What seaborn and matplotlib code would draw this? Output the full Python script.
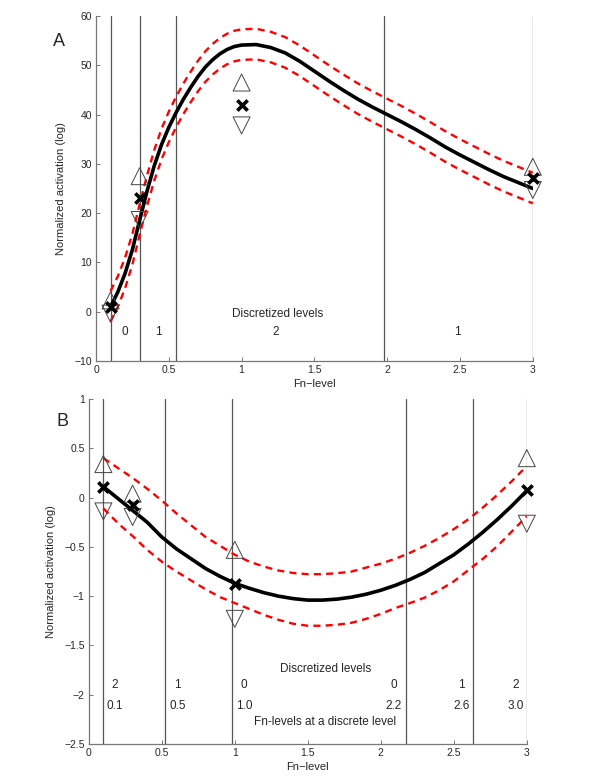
import seaborn as sns
import matplotlib.pyplot as plt

# ---- panel A data ----
xa = [0.1, 0.15, 0.2, 0.25, 0.3, 0.35, 0.4, 0.45, 0.5, 0.55, 0.6, 0.65, 0.7, 0.75, 0.8,
      0.85, 0.9, 0.95, 1.0, 1.1, 1.2, 1.3, 1.4, 1.5, 1.6, 1.7, 1.8, 1.9, 2.0, 2.1,
      2.2, 2.3, 2.4, 2.5, 2.6, 2.7, 2.8, 2.9, 3.0]
fit_a = [1.0, 4.0, 7.8, 12.6, 18.6, 24.4, 29.6, 33.9, 37.4, 40.4, 43.1, 45.5, 47.7, 49.6, 51.1,
         52.3, 53.2, 53.8, 54.1, 54.2, 53.6, 52.5, 50.8, 48.8, 46.8, 44.9, 43.1, 41.5, 40.0, 38.5,
         36.9, 35.2, 33.4, 31.8, 30.3, 28.8, 27.4, 26.2, 25.0]
upper_a = [4.2, 7.2, 11.0, 15.8, 21.8, 27.6, 32.8, 37.1, 40.6, 43.6, 46.3, 48.7, 50.9, 52.8, 54.3,
           55.5, 56.4, 57.0, 57.3, 57.4, 56.8, 55.7, 54.0, 52.0, 50.0, 48.1, 46.3, 44.7, 43.2, 41.7,
           40.1, 38.4, 36.6, 35.0, 33.5, 32.0, 30.6, 29.4, 28.2]
lower_a = [-2.0, 1.0, 4.8, 9.6, 15.6, 21.4, 26.6, 30.9, 34.4, 37.4, 40.1, 42.5, 44.7, 46.6, 48.1,
           49.3, 50.2, 50.8, 51.1, 51.2, 50.6, 49.5, 47.8, 45.8, 43.8, 41.9, 40.1, 38.5, 37.0, 35.5,
           33.9, 32.2, 30.4, 28.8, 27.3, 25.8, 24.4, 23.2, 22.0]

obs_x_a = [0.1, 0.3, 1.0, 3.0]
obs_mean_a = [1.0, 23.0, 41.9, 27.1]
obs_hi_a = [2.3, 27.5, 46.5, 29.4]
obs_lo_a = [-0.4, 18.6, 37.8, 24.7]

bounds_a = [0.1, 0.3, 0.55, 1.98, 3.0]
levels_a = ['0', '1', '2', '1']
levels_a_x = [0.2, 0.425, 1.235, 2.48]

# ---- panel B data ----
xb = [0.1, 0.2, 0.3, 0.4, 0.5, 0.6, 0.7, 0.8, 0.9, 1.0, 1.1, 1.2, 1.3, 1.4, 1.5,
      1.6, 1.7, 1.8, 1.9, 2.0, 2.1, 2.2, 2.3, 2.4, 2.5, 2.6, 2.7, 2.8, 2.9, 3.0]
fit_b = [0.11, -0.01, -0.13, -0.25, -0.40, -0.52, -0.62, -0.72, -0.80, -0.87, -0.92, -0.965, -1.00, -1.025, -1.04,
         -1.04, -1.03, -1.01, -0.98, -0.94, -0.89, -0.83, -0.76, -0.67, -0.58, -0.47, -0.35, -0.22, -0.08, 0.07]
upper_b = [0.40, 0.30, 0.20, 0.09, -0.03, -0.16, -0.28, -0.40, -0.49, -0.58, -0.65, -0.70, -0.74, -0.765, -0.777,
           -0.777, -0.767, -0.75, -0.71, -0.67, -0.62, -0.56, -0.49, -0.41, -0.32, -0.22, -0.10, 0.03, 0.17, 0.32]
lower_b = [-0.11, -0.26, -0.39, -0.53, -0.65, -0.75, -0.84, -0.93, -1.01, -1.07, -1.13, -1.19, -1.24, -1.28, -1.30,
           -1.30, -1.29, -1.27, -1.23, -1.18, -1.12, -1.07, -1.015, -0.94, -0.85, -0.735, -0.62, -0.49, -0.34, -0.19]

obs_x_b = [0.1, 0.3, 1.0, 3.0]
obs_mean_b = [0.11, -0.075, -0.876, 0.077]
obs_hi_b = [0.34, 0.04, -0.53, 0.40]
obs_lo_b = [-0.14, -0.197, -1.23, -0.265]

bounds_b = [0.1, 0.525, 0.98, 2.175, 2.63, 3.0]
levels_b = ['2', '1', '0', '0', '1', '2']
fnlev_b = ['0.1', '0.5', '1.0', '2.2', '2.6', '3.0']
levels_b_x = [0.178, 0.607, 1.064, 2.09, 2.555, 2.925]

sns.set_style('ticks')
plt.rcParams['font.family'] = ['Liberation Sans Narrow', 'Liberation Sans', 'DejaVu Sans']
plt.rcParams['axes.unicode_minus'] = True

fig = plt.figure(figsize=(6, 7.76), dpi=100)
ax_a = fig.add_axes([0.16, 0.5348, 0.728, 0.4446])
ax_b = fig.add_axes([0.148, 0.0412, 0.73, 0.4446])


def draw_panel(ax, x, fit, up, lo, ox, om, oh, ol, bounds):
    for b in bounds:
        ax.axvline(b, color='#555555', lw=0.9, zorder=1)
    sns.lineplot(x=x, y=up, ax=ax, color='red', lw=1.7, dashes=(3, 2.2), zorder=2)
    sns.lineplot(x=x, y=lo, ax=ax, color='red', lw=1.7, dashes=(3, 2.2), zorder=2)
    sns.lineplot(x=x, y=fit, ax=ax, color='black', lw=2.6, zorder=3)
    sns.scatterplot(x=ox, y=oh, ax=ax, marker='^', s=150, facecolor='none',
                    edgecolor='#444444', linewidth=0.7, zorder=4, clip_on=False)
    sns.scatterplot(x=ox, y=ol, ax=ax, marker='v', s=150, facecolor='none',
                    edgecolor='#444444', linewidth=0.7, zorder=4, clip_on=False)
    sns.scatterplot(x=ox, y=om, ax=ax, marker='x', s=55, color='black',
                    linewidth=2.6, zorder=5, clip_on=False)
    sns.despine(ax=ax)
    for sp in ['left', 'bottom']:
        ax.spines[sp].set_color('#777777')
        ax.spines[sp].set_linewidth(0.9)
    ax.tick_params(direction='in', length=3, width=0.7, color='#777777',
                   labelsize=7.5, pad=3)
    ax.set_xlim(0, 3)
    ax.set_xticks([0, 0.5, 1, 1.5, 2, 2.5, 3])
    ax.set_xticklabels(['0', '0.5', '1', '1.5', '2', '2.5', '3'])
    ax.set_xlabel('Fn\u2212level', fontsize=8, labelpad=3)
    ax.set_ylabel('Normalized activation (log)', fontsize=8, labelpad=6)


draw_panel(ax_a, xa, fit_a, upper_a, lower_a, obs_x_a, obs_mean_a, obs_hi_a, obs_lo_a, bounds_a)
ax_a.set_ylim(-10, 60)
ax_a.set_yticks(range(-10, 61, 10))
ax_a.text(1.25, -0.5, 'Discretized levels', ha='center', va='center', fontsize=8.5)
for lx, lt in zip(levels_a_x, levels_a):
    ax_a.text(lx, -4.1, lt, ha='center', va='center', fontsize=8.5)

draw_panel(ax_b, xb, fit_b, upper_b, lower_b, obs_x_b, obs_mean_b, obs_hi_b, obs_lo_b, bounds_b)
ax_b.set_ylim(-2.5, 1)
ax_b.set_yticks([-2.5, -2, -1.5, -1, -0.5, 0, 0.5, 1])
ax_b.set_yticklabels(['\u22122.5', '\u22122', '\u22121.5', '\u22121', '\u22120.5', '0', '0.5', '1'])
ax_b.text(1.62, -1.74, 'Discretized levels', ha='center', va='center', fontsize=8.5)
ax_b.text(1.62, -2.28, 'Fn-levels at a discrete level', ha='center', va='center', fontsize=8.5)
for lx, lt, ft in zip(levels_b_x, levels_b, fnlev_b):
    ax_b.text(lx, -1.9, lt, ha='center', va='center', fontsize=8.5)
    ax_b.text(lx, -2.11, ft, ha='center', va='center', fontsize=8.5)

fig.text(59 / 600, 1 - 41 / 776, 'A', ha='center', va='center', fontsize=13)
fig.text(63 / 600, 1 - 422 / 776, 'B', ha='center', va='center', fontsize=13)

fig.savefig('out.png', dpi=100)
